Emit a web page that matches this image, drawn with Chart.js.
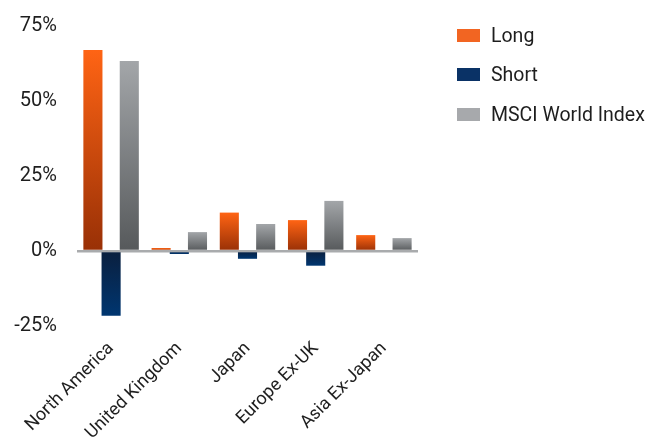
<!DOCTYPE html>
<html>
<head>
<meta charset="utf-8">
<script src="https://cdn.jsdelivr.net/npm/chart.js@4/dist/chart.umd.min.js"></script>
<style>
  body { margin: 0; background: #fff; overflow: hidden; }
  #wrap { position: relative; width: 652px; height: 437px; }
  canvas { display: block; }
  #legend { position: absolute; left: 457px; top: 25px; font-family: Roboto, sans-serif; font-size: 19.5px; color: #1e1e1e; }
  #legend div { display: flex; align-items: center; height: 20px; margin-bottom: 19.5px; white-space: nowrap; }
  #legend span { display: inline-block; width: 23px; height: 13px; margin-right: 11px; }
</style>
</head>
<body>
<div id="wrap">
  <canvas id="c" width="652" height="437"></canvas>
  <div id="legend"></div>
</div>
<script>
// data
const regions = ['North America', 'United Kingdom', 'Japan', 'Europe Ex-UK', 'Asia Ex-Japan'];
const longPct = [67, 1, 12.8, 10.3, 5.3];
const shortPct = [-21.6, -1, -2.6, -4.9, 0];
const msciPct = [63.3, 6.3, 9, 16.7, 4.3];
const yTicks = [-25, 0, 25, 50, 75];

const series = [
    { label: 'Long', data: longPct, swatch: '#f26522', top: '#ff6414', bottom: '#983006' },
    { label: 'Short', data: shortPct, swatch: '#0a3266', top: '#0a1f3e', bottom: '#003670' },
    { label: 'MSCI World Index', data: msciPct, swatch: '#a7a9ac', top: '#a3a6a9', bottom: '#56595b' }
];

// per-bar vertical gradient, from the zero line to the bar end
function barFill(s) {
    return ctx => {
        const chart = ctx.chart;
        const y = chart.scales.y;
        if (!y || ctx.type !== 'data') return s.swatch;
        const y0 = y.getPixelForValue(0);
        const y1 = y.getPixelForValue(ctx.raw);
        if (!isFinite(y0) || !isFinite(y1)) return s.swatch;
        if (Math.abs(y1 - y0) < 1) return s.top;
        const g = chart.ctx.createLinearGradient(0, Math.min(y0, y1), 0, Math.max(y0, y1));
        g.addColorStop(0, s.top);
        g.addColorStop(1, s.bottom);
        return g;
    };
}

const legend = document.getElementById('legend');
series.forEach(s => {
    const row = document.createElement('div');
    row.innerHTML = '<span style="background:' + s.swatch + '"></span>' + s.label;
    legend.appendChild(row);
});

const ctx = document.getElementById('c').getContext('2d');
new Chart(ctx, {
    type: 'bar',
    data: {
        labels: regions,
        datasets: series.map(s => ({
            label: s.label,
            data: s.data,
            backgroundColor: barFill(s),
            borderWidth: 0,
            categoryPercentage: 0.8,
            barPercentage: 1.05
        }))
    },
    options: {
        responsive: false,
        animation: false,
        layout: { padding: { top: 26, right: 234, left: 0, bottom: 0 } },
        plugins: { legend: { display: false }, tooltip: { enabled: false } },
        scales: {
            x: {
                grid: { display: false },
                border: { display: false },
                afterFit: scale => { scale.height = 111; },
                ticks: {
                    minRotation: 45, maxRotation: 45, padding: 4, color: '#1e1e1e',
                    font: { family: 'Roboto', size: 18 }
                }
            },
            y: {
                min: -25, max: 75,
                afterFit: scale => {
                    scale.width = 77;
                    // label padding is horizontal only here
                    scale.paddingTop = 12;
                    scale.paddingBottom = 12;
                },
                afterBuildTicks: scale => { scale.ticks = yTicks.map(v => ({ value: v })); },
                border: { display: false },
                grid: {
                    drawTicks: false,
                    lineWidth: 2.5,
                    color: c => c.tick && c.tick.value === 0 ? '#a9abad' : 'rgba(0,0,0,0)'
                },
                ticks: {
                    padding: 20, color: '#1e1e1e',
                    font: { family: 'Roboto', size: 20 },
                    callback: v => v + '%'
                }
            }
        }
    }
});
</script>
</body>
</html>
